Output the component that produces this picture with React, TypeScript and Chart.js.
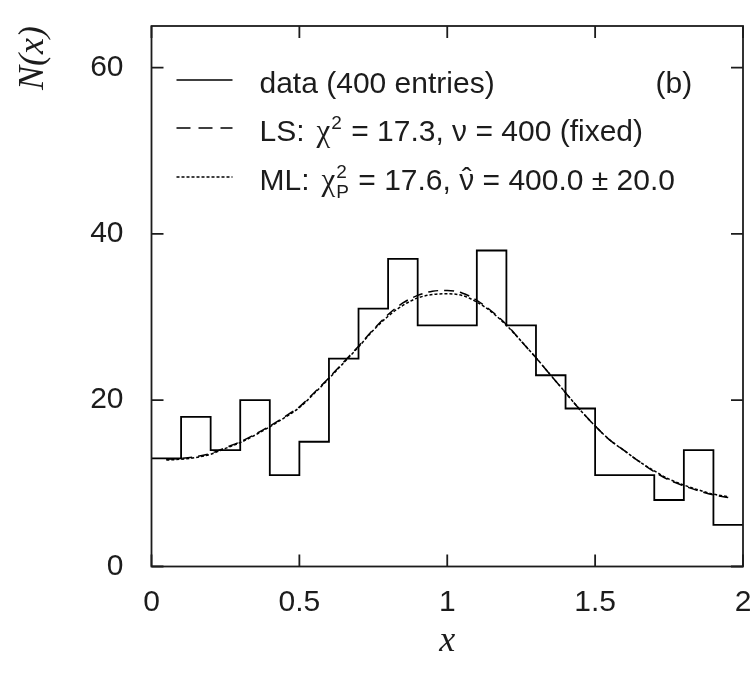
import React, { useEffect, useRef } from "react";
import { Chart, registerables } from "chart.js";

Chart.register(...registerables);

// ---------- data ----------
const binLeft = [0, 0.1, 0.2, 0.3, 0.4, 0.5, 0.6, 0.7, 0.8, 0.9, 1.0, 1.1, 1.2, 1.3, 1.4, 1.5, 1.6, 1.7, 1.8, 1.9];
const binCounts = [13, 18, 14, 20, 11, 15, 25, 31, 37, 29, 29, 38, 29, 23, 19, 11, 11, 8, 14, 5];
const histEnd = 2.0;

const curveX = [0.05, 0.1, 0.15, 0.2, 0.25, 0.3, 0.35, 0.4, 0.45, 0.5, 0.55, 0.6, 0.65, 0.7, 0.75, 0.8, 0.85, 0.9, 0.95, 1.0,
  1.05, 1.1, 1.15, 1.2, 1.25, 1.3, 1.35, 1.4, 1.45, 1.5, 1.55, 1.6, 1.65, 1.7, 1.75, 1.8, 1.85, 1.9, 1.95];
const lsFit = [12.9, 13.0, 13.2, 13.6, 14.3, 15.0, 15.9, 16.9, 18.0, 19.2, 20.9, 22.7, 24.6, 26.5, 28.5, 30.3, 31.7, 32.6, 33.1, 33.2,
  32.9, 32.0, 30.7, 29.1, 27.1, 25.1, 23.0, 20.9, 18.8, 16.9, 15.2, 13.9, 12.6, 11.4, 10.4, 9.7, 9.1, 8.6, 8.3];
const mlFit = [12.8, 12.9, 13.1, 13.5, 14.2, 14.9, 15.8, 16.8, 17.9, 19.1, 20.8, 22.6, 24.5, 26.4, 28.4, 30.1, 31.4, 32.3, 32.7, 32.8,
  32.6, 31.8, 30.6, 29.0, 27.1, 25.1, 23.0, 20.9, 18.8, 16.9, 15.2, 13.9, 12.6, 11.5, 10.5, 9.8, 9.2, 8.7, 8.4];

const xTickValues = [0, 0.5, 1, 1.5, 2];
const xTickLabels = ["0", "0.5", "1", "1.5", "2"];
const yTickValues = [0, 20, 40, 60];
const yTickLabels = ["0", "20", "40", "60"];
const xRange = [0, 2];
const yRange = [0, 65];

const legendData = "data (400 entries)";
const legendTag = "(b)";

// ---------- styles ----------
const SANS = "'Liberation Sans', Arial, Helvetica, sans-serif";
const SERIF = "'Liberation Serif', 'Times New Roman', serif";
const INK = "#1c1c1c";
const FS = 30;

type Run = { text?: string; font?: string; dy?: number; gap?: number; hat?: boolean; stack?: { text: string; font: string; dy: number }[] };

const sans = `${FS}px ${SANS}`;
const small = `${Math.round(FS * 0.62)}px ${SANS}`;
const greek = `${FS + 1}px ${SERIF}`;

const rowLS: Run[] = [
  { text: "LS:", font: sans },
  { gap: 12 },
  { text: "χ", font: greek },
  { stack: [{ text: "2", font: small, dy: -12 }] },
  { text: " = 17.3, ", font: sans },
  { text: "ν", font: sans },
  { text: " = 400 (fixed)", font: sans },
];
const rowML: Run[] = [
  { text: "ML:", font: sans },
  { gap: 12 },
  { text: "χ", font: greek },
  { stack: [{ text: "2", font: small, dy: -12 }, { text: "P", font: small, dy: 8 }] },
  { text: " = 17.6, ", font: sans },
  { text: "ν", font: sans, hat: true },
  { text: " = 400.0 ± 20.0", font: sans },
];

function drawRuns(ctx: CanvasRenderingContext2D, x: number, baseline: number, runs: Run[]) {
  let cx = x;
  for (const r of runs) {
    if (r.gap) { cx += r.gap; continue; }
    if (r.stack) {
      let mw = 0;
      for (const s of r.stack) {
        ctx.font = s.font;
        ctx.fillText(s.text, cx + 1, baseline + s.dy);
        mw = Math.max(mw, ctx.measureText(s.text).width);
      }
      cx += mw + 2;
      continue;
    }
    ctx.font = r.font!;
    ctx.fillText(r.text!, cx, baseline + (r.dy || 0));
    const w = ctx.measureText(r.text!).width;
    if (r.hat) {
      ctx.save();
      ctx.font = r.font!;
      ctx.textAlign = "center";
      ctx.fillText("ˆ", cx + w / 2, baseline - 2);
      ctx.restore();
    }
    cx += w;
  }
}

const framePlugin = {
  id: "gnuFrame",
  afterDatasetsDraw(chart: any) {
    const { ctx, chartArea: ca, scales } = chart;
    const xs = scales.x, ys = scales.y;
    ctx.save();
    ctx.strokeStyle = INK;
    ctx.lineWidth = 1.8;
    ctx.setLineDash([]);
    ctx.strokeRect(ca.left, ca.top, ca.right - ca.left, ca.bottom - ca.top);
    const tl = 12;
    ctx.beginPath();
    for (const v of xTickValues) {
      const px = xs.getPixelForValue(v);
      ctx.moveTo(px, ca.bottom); ctx.lineTo(px, ca.bottom - tl);
      ctx.moveTo(px, ca.top); ctx.lineTo(px, ca.top + tl);
    }
    for (const v of yTickValues) {
      const py = ys.getPixelForValue(v);
      ctx.moveTo(ca.left, py); ctx.lineTo(ca.left + tl, py);
      ctx.moveTo(ca.right, py); ctx.lineTo(ca.right - tl, py);
    }
    ctx.stroke();

    // legend
    const sx0 = ca.left + 25, sx1 = ca.left + 81, tx = ca.left + 108;
    const rows = [ca.top + 54, ca.top + 102, ca.top + 151];
    const dashes = [[], [14, 8], [3, 2]];
    ctx.lineWidth = 1.6;
    ctx.strokeStyle = "#000";
    rows.forEach((ry, i) => {
      ctx.setLineDash(dashes[i]);
      ctx.beginPath();
      ctx.moveTo(sx0, ry); ctx.lineTo(sx1, ry);
      ctx.stroke();
    });
    ctx.setLineDash([]);
    ctx.fillStyle = INK;
    ctx.textBaseline = "alphabetic";
    ctx.textAlign = "left";
    const b = 12.5;
    ctx.font = sans;
    ctx.fillText(legendData, tx, rows[0] + b);
    ctx.fillText(legendTag, ca.left + 504, rows[0] + b);
    drawRuns(ctx, tx, rows[1] + b, rowLS);
    drawRuns(ctx, tx, rows[2] + b, rowML);
    ctx.restore();
  },
};

export default function App() {
  const ref = useRef<HTMLCanvasElement | null>(null);
  useEffect(() => {
    document.body.style.margin = "0";
    const histPoints = binLeft.map((x, i) => ({ x, y: binCounts[i] }));
    histPoints.push({ x: histEnd, y: binCounts[binCounts.length - 1] });
    const chart = new Chart(ref.current!, {
      type: "line",
      data: {
        datasets: [
          {
            label: "data",
            data: histPoints,
            stepped: "before",
            borderColor: "#000",
            borderWidth: 1.8,
            pointRadius: 0,
            fill: false,
          },
          {
            label: "LS",
            data: curveX.map((x, i) => ({ x, y: lsFit[i] })),
            borderColor: "#000",
            borderWidth: 1.5,
            borderDash: [10, 6],
            pointRadius: 0,
            cubicInterpolationMode: "monotone",
            fill: false,
          },
          {
            label: "ML",
            data: curveX.map((x, i) => ({ x, y: mlFit[i] })),
            borderColor: "#000",
            borderWidth: 1.5,
            borderDash: [3, 2],
            pointRadius: 0,
            cubicInterpolationMode: "monotone",
            fill: false,
          },
        ],
      } as any,
      options: {
        animation: false,
        responsive: false,
        devicePixelRatio: 1,
        layout: { padding: { left: 0, right: 12, top: 26, bottom: 0 } },
        plugins: { legend: { display: false }, tooltip: { enabled: false } },
        scales: {
          x: {
            type: "linear",
            min: xRange[0],
            max: xRange[1],
            afterFit: (s: any) => { s.height = 107.5; s.paddingLeft = 0; s.paddingRight = 0; },
            afterBuildTicks: (s: any) => { s.ticks = xTickValues.map((v) => ({ value: v })); },
            grid: { display: false, drawTicks: false },
            border: { display: false },
            ticks: {
              padding: 18,
              color: INK,
              font: { family: SANS, size: FS },
              maxRotation: 0,
              callback: (v: any) => { const i = xTickValues.indexOf(Number(v)); return i >= 0 ? xTickLabels[i] : ""; },
            },
            title: {
              display: true,
              text: "x",
              color: INK,
              font: { family: SERIF, size: 36, style: "italic" },
              padding: { top: 0, bottom: 11 },
            },
          },
          y: {
            type: "linear",
            min: yRange[0],
            max: yRange[1],
            afterFit: (s: any) => { s.width = 151.5; s.paddingTop = 0; s.paddingBottom = 0; },
            afterBuildTicks: (s: any) => { s.ticks = yTickValues.map((v) => ({ value: v })); },
            grid: { display: false, drawTicks: false },
            border: { display: false },
            ticks: {
              padding: 28,
              color: INK,
              font: { family: SANS, size: FS },
              callback: (v: any) => { const i = yTickValues.indexOf(Number(v)); return i >= 0 ? yTickLabels[i] : ""; },
            },
            title: {
              display: true,
              text: "N(x)",
              align: "end",
              color: INK,
              font: { family: SERIF, size: 36, style: "italic" },
              padding: { top: 12, bottom: 0 },
            },
          },
        },
      } as any,
      plugins: [framePlugin],
    });
    return () => chart.destroy();
  }, []);
  return (
    <div style={{ width: 755, height: 674, background: "#fff" }}>
      <canvas ref={ref} width={755} height={674} style={{ display: "block", width: 755, height: 674 }} />
    </div>
  );
}
